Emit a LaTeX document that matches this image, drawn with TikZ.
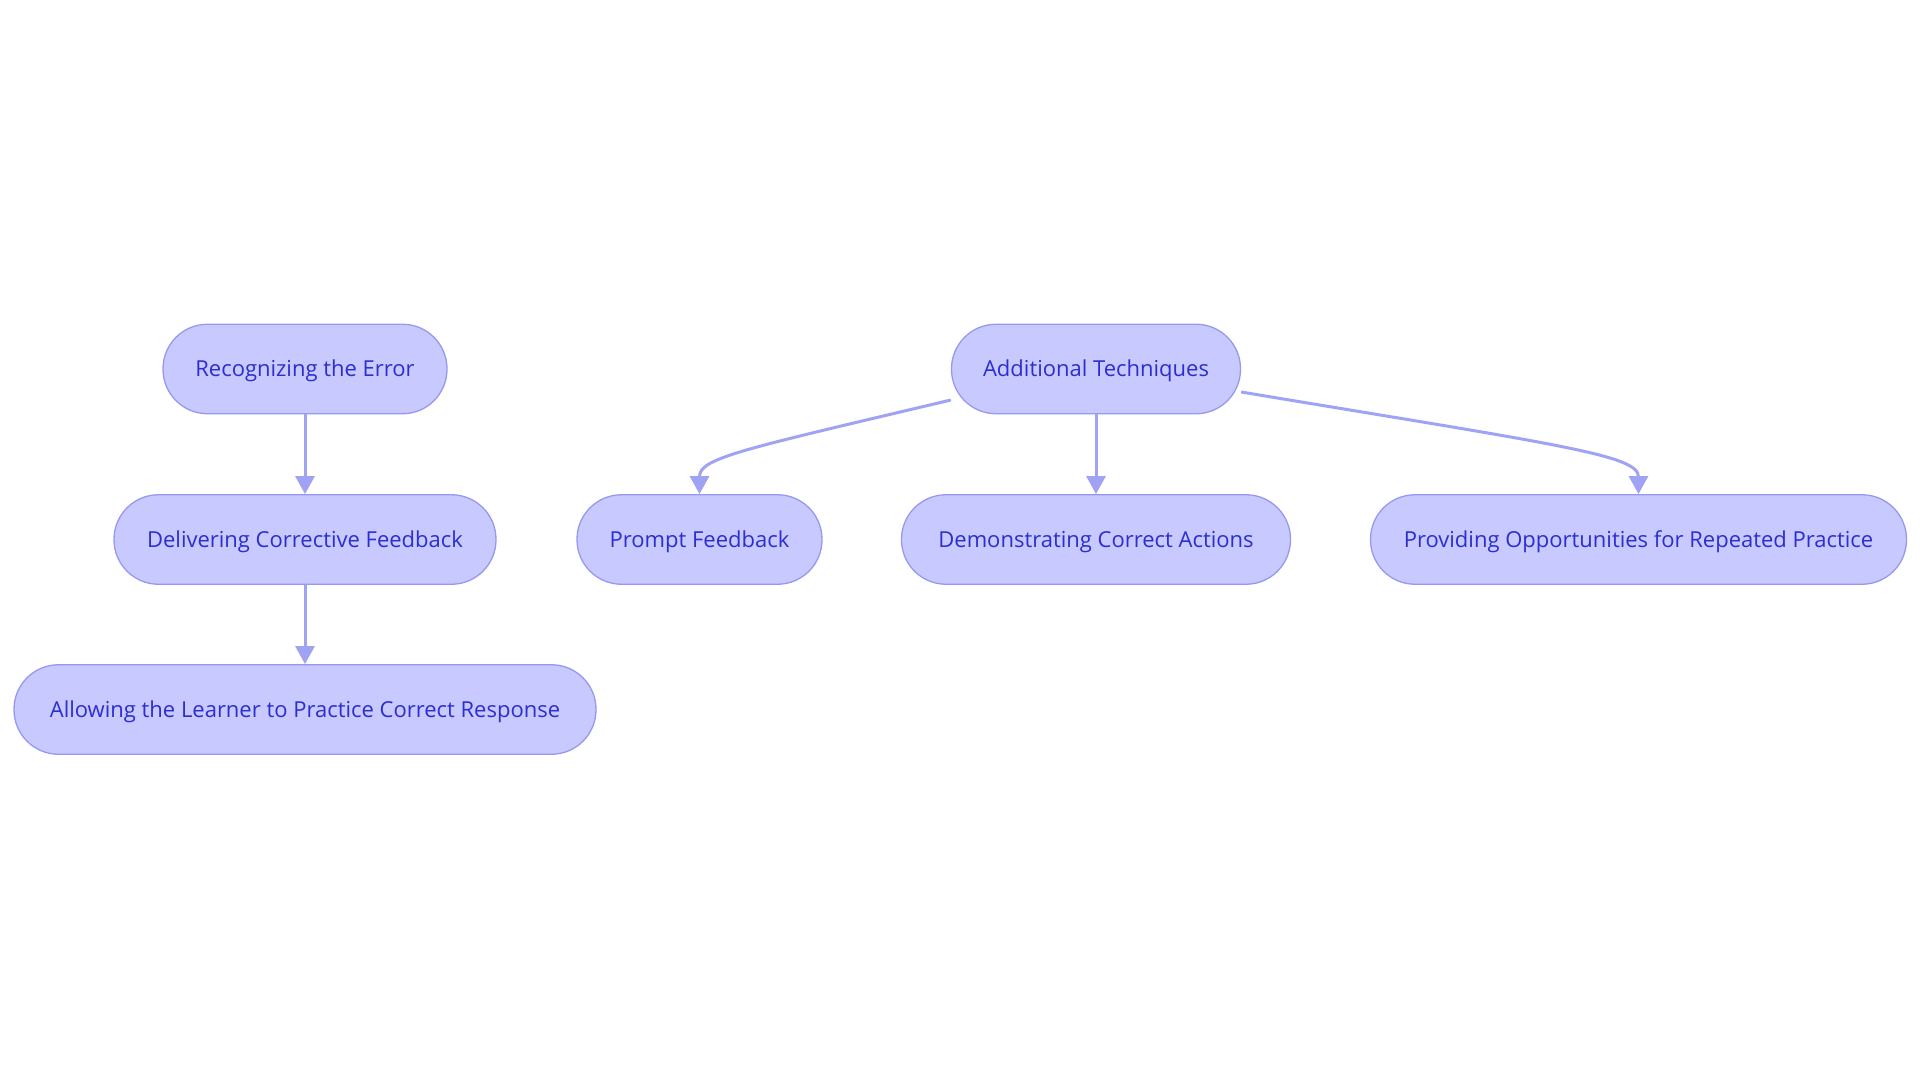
\documentclass[tikz,border=0pt]{standalone}
\usepackage{fontspec}
\setmainfont{Open Sans}
\usetikzlibrary{arrows.meta}
\definecolor{nodefill}{HTML}{C8C9FF}
\definecolor{nodedraw}{HTML}{9898F0}
\definecolor{edgecol}{HTML}{A0A3F3}
\definecolor{textcol}{HTML}{2C2ECF}
\tikzset{
  pill/.style={draw=nodedraw, fill=nodefill, line width=1.3pt,
    rounded corners=44.5pt, minimum height=89.5pt, inner sep=0pt,
    text height=15.7pt, text depth=0pt,
    text=textcol, font=\fontsize{22}{26}\selectfont, anchor=center},
  conn/.style={draw=edgecol, line width=3pt,
    -{Triangle[width=19pt,length=18pt]}}
}
\begin{document}
\begin{tikzpicture}[x=1pt, y=-1pt]
\useasboundingbox (0,0) rectangle (1920,1083);
\node[pill, minimum width=284pt] (rec) at (305,369) {Recognizing the Error};
\node[pill, minimum width=382pt] (del) at (305,539.5) {Delivering Corrective Feedback};
\node[pill, minimum width=582pt] (all) at (305,709.5) {Allowing the Learner to Practice Correct Response};
\node[pill, minimum width=289pt] (add) at (1096,369) {Additional Techniques};
\node[pill, minimum width=245pt] (prm) at (699.5,539.5) {Prompt Feedback};
\node[pill, minimum width=389pt] (dem) at (1096,539.5) {Demonstrating Correct Actions};
\node[pill, minimum width=536pt] (prv) at (1638.5,539.5) {Providing Opportunities for Repeated Practice};
\coordinate (aL) at ([yshift=-31pt]add.west);
\coordinate (aR) at ([yshift=-23pt]add.east);
\draw[conn] (rec.south) -- (del.north);
\draw[conn] (del.south) -- (all.north);
\draw[conn] (add.south) -- (dem.north);
\draw[conn] (aL) .. controls (740,450) and (699.5,458) .. (prm.north);
\draw[conn] (aR) .. controls (1560,445) and (1638.5,455) .. (prv.north);
\end{tikzpicture}
\end{document}
